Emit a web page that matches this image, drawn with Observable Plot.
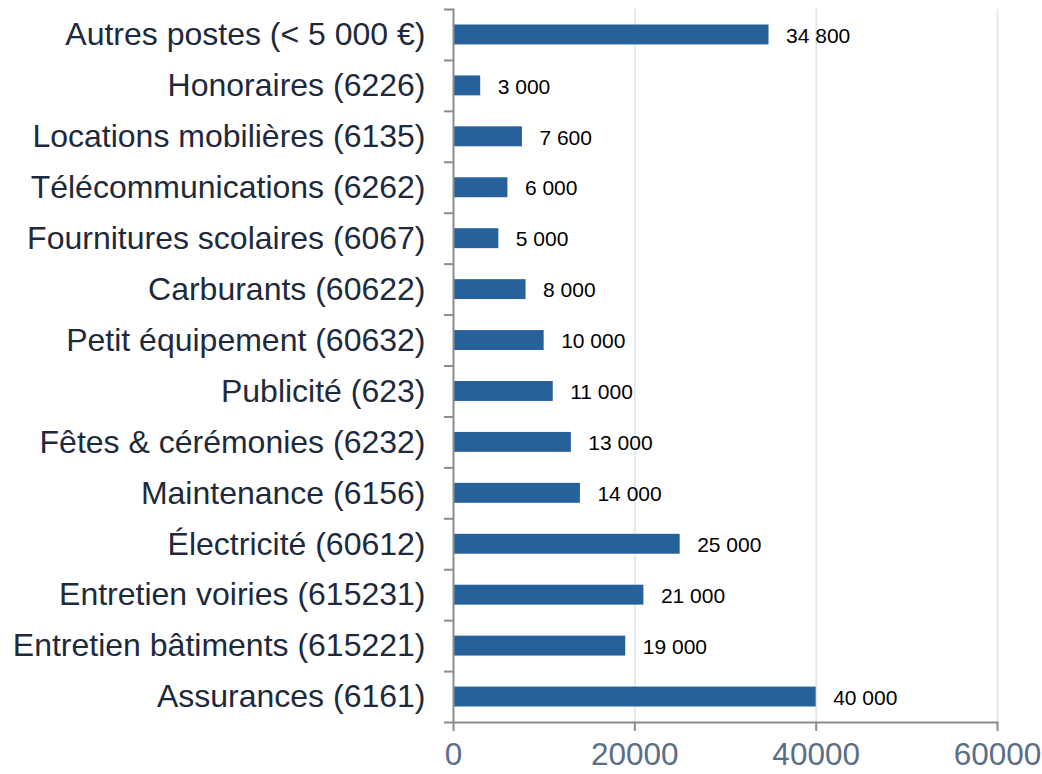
<!DOCTYPE html>
<html><head><meta charset="utf-8">
<script src="https://cdn.jsdelivr.net/npm/d3@7"></script>
<script src="https://cdn.jsdelivr.net/npm/@observablehq/plot@0.6"></script>
<style>html,body{margin:0;padding:0;background:#fff;}</style>
</head><body><div id="chart"></div>
<script>
const categories = [
  "Autres postes (< 5 000 €)",
  "Honoraires (6226)",
  "Locations mobilières (6135)",
  "Télécommunications (6262)",
  "Fournitures scolaires (6067)",
  "Carburants (60622)",
  "Petit équipement (60632)",
  "Publicité (623)",
  "Fêtes & cérémonies (6232)",
  "Maintenance (6156)",
  "Électricité (60612)",
  "Entretien voiries (615231)",
  "Entretien bâtiments (615221)",
  "Assurances (6161)"
];
const values = [34800, 3000, 7600, 6000, 5000, 8000, 10000, 11000, 13000, 14000, 25000, 21000, 19000, 40000];
const xTicks = [0, 20000, 40000, 60000];

const data = categories.map((c, i) => ({cat: c, value: values[i]}));
const loc = d3.formatLocale({decimal: ",", thousands: " ", grouping: [3], currency: ["", " €"]});
const fmt = loc.format(",d");

const W = 1042, H = 774, mt = 9, mb = 52;
const step = (H - mt - mb) / categories.length;
const axisGray = "#8c8c8c";

const chart = Plot.plot({
  width: W, height: H,
  marginLeft: 453, marginRight: 45, marginTop: mt, marginBottom: mb,
  style: {fontFamily: "'Liberation Sans', Arial, sans-serif", background: "#fff"},
  x: {domain: [0, 60000], label: null},
  y: {domain: categories, padding: 0, round: false, label: null},
  marks: [
    Plot.gridX(xTicks.slice(1), {stroke: "#dde4ee", strokeOpacity: 1, strokeWidth: 1.5}),
    Plot.barX(data, {y: "cat", x: "value", fill: "#26619c", insetTop: 15.5, insetBottom: 15.5}),
    Plot.text(data, {y: "cat", x: "value", text: d => fmt(d.value), textAnchor: "start", dx: 17, dy: 1, fontSize: 21, fill: "#000"}),
    Plot.axisY({tickSize: 0, tickPadding: 28, fontSize: 32, color: "#1e2a3c", tickFormat: d => d}),
    Plot.axisY({tickSize: 9, text: null, dy: -step / 2, stroke: axisGray, strokeWidth: 2, strokeOpacity: 1}),
    Plot.axisY([categories[categories.length - 1]], {tickSize: 9, text: null, dy: step / 2, stroke: axisGray, strokeWidth: 2, strokeOpacity: 1}),
    Plot.axisX(xTicks, {tickSize: 9, tickPadding: 11, fontSize: 31.5, color: "#5b6e87", stroke: axisGray, strokeWidth: 2, strokeOpacity: 1, tickFormat: d => String(d)}),
    Plot.frame({anchor: "left", stroke: axisGray, strokeWidth: 2}),
    Plot.frame({anchor: "bottom", stroke: axisGray, strokeWidth: 2})
  ]
});
document.getElementById("chart").appendChild(chart);
</script>
</body></html>
